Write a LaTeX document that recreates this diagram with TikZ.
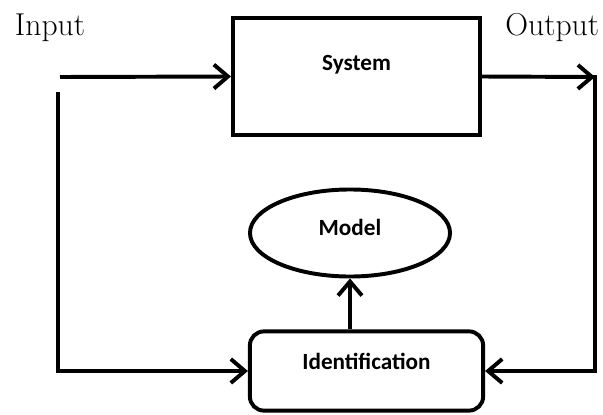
\documentclass[tikz,border=0pt]{standalone}
\usepackage{fontspec}
\newfontfamily\boxfont{Carlito}
\usetikzlibrary{arrows.meta,shapes.geometric}
\tikzset{
  blk/.style={draw,line width=2.8pt,font=\boxfont\bfseries\fontsize{16.5}{19}\selectfont},
  flow/.style={line width=2.8pt,-{Straight Barb[length=10pt,width=17pt,line width=2.8pt]}},
}
\begin{document}
\begin{tikzpicture}[x=0.025cm,y=-0.025cm]
    \useasboundingbox (0,0) rectangle (603,414);
    \node[blk,minimum width=6.175cm,minimum height=2.925cm,text depth=0.7cm] (sys) at (356.5,76.5) {System};
    \node[blk,ellipse,minimum width=5cm,minimum height=2.175cm,text depth=0.3cm] (model) at (350,233) {Model};
    \node[blk,rounded corners=10pt,minimum width=5.83cm,minimum height=1.98cm,text depth=0.5cm] (ident) at (366.5,371) {Identification};

    \coordinate (in) at (60,77);
    \coordinate (fb) at (58,92);
    \coordinate (out) at (595,77);
    \coordinate (outtop) at (595,75);

    \node[anchor=base west,font=\fontsize{22.5}{26}\selectfont] (inlabel) at (10,35) {Input};
    \node[anchor=base east,font=\fontsize{22.5}{26}\selectfont] (outlabel) at (604,35) {Output};

    \draw[flow] (in) -- (sys.west);
    \draw[flow] (sys.east) -- (out);
    \draw[flow] (fb) |- (ident.west);
    \draw[flow,line width=3.3pt] (outtop) |- (ident.east);
    \draw[flow] (model.south |- ident.north) -- (model.south);
\end{tikzpicture}
\end{document}
